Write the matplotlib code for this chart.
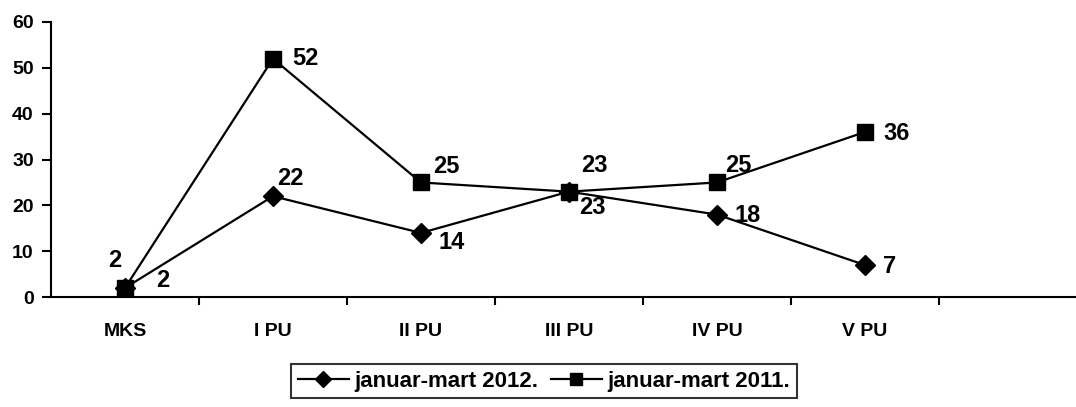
import numpy as np
import matplotlib.pyplot as plt

plt.rcParams.update(
    {
        "font.family": "Liberation Sans",
        "font.weight": "bold",
        "font.size": 14,
    }
)

categories = ["MKS", "I PU", "II PU", "III PU", "IV PU", "V PU"]
vals_2012 = [2, 22, 14, 23, 18, 7]
vals_2011 = [2, 52, 25, 23, 25, 36]
label_2012 = "januar-mart 2012."
label_2011 = "januar-mart 2011."

# pomaci natpisa (pikseli)
off_2012 = [(38, 7), (17, 18), (31, -10), (23, -16), (31, -1), (25, -1)]
off_2011 = [(-10, 27), (32, 0), (25, 16), (25, 26), (21, 17), (32, -1)]

fig = plt.figure(figsize=(10.76, 4.07), dpi=100)
ax = fig.add_axes([0.0474, 0.27, 0.9517, 0.676])

x = np.arange(len(categories))
ax.plot(x, vals_2012, color="black", lw=1.6, marker="D", ms=10, label=label_2012)
ax.plot(x, vals_2011, color="black", lw=1.6, marker="s", ms=11, label=label_2011)

for xi, v, off in zip(x, vals_2012, off_2012):
    ax.annotate(str(v), (xi, v), xytext=off, textcoords="offset pixels",
                ha="center", va="center", fontsize=17, fontweight="bold")
for xi, v, off in zip(x, vals_2011, off_2011):
    ax.annotate(str(v), (xi, v), xytext=off, textcoords="offset pixels",
                ha="center", va="center", fontsize=17, fontweight="bold")

ax.set_xlim(-0.5, 6.42)
ax.set_ylim(0, 60)
ax.set_yticks(range(0, 61, 10))
ax.set_xticks(x)
ax.set_xticklabels(categories)
ax.set_xticks(np.arange(0.5, 6.0, 1), minor=True)
ax.tick_params(axis="x", which="major", length=0, pad=19)
ax.tick_params(axis="x", which="minor", length=5.5, width=1.5, direction="out")
ax.tick_params(axis="y", length=6.5, width=1.5, direction="out", pad=6)
ax.spines["top"].set_visible(False)
ax.spines["right"].set_visible(False)
ax.spines["left"].set_linewidth(1.5)
ax.spines["bottom"].set_linewidth(1.5)

leg = fig.legend(loc="upper center", bbox_to_anchor=(0.5056, 0.106), ncol=2,
                 frameon=True, fancybox=False, edgecolor="black",
                 prop={"weight": "bold", "size": 16}, handlelength=2.3,
                 handletextpad=0.25, columnspacing=0.55, borderpad=0.3,
                 borderaxespad=0, markerscale=0.8)
leg.get_frame().set_linewidth(1.5)

fig.savefig("out.png", dpi=100)
